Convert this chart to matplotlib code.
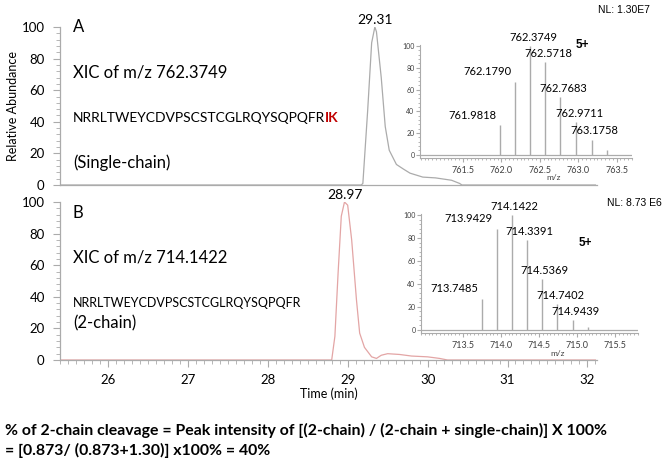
import numpy as np
import matplotlib.pyplot as plt
from matplotlib.ticker import MultipleLocator

plt.rcParams['font.family'] = ['Lato', 'DejaVu Sans']

# XIC traces: retention time (min) and relative abundance (%)
time_a = [25.4, 29.17, 29.19, 29.25, 29.30, 29.34, 29.36, 29.42, 29.47, 29.52,
          29.61, 29.70, 29.78, 29.94, 30.10, 30.30, 30.40, 30.43, 32.1]
abund_a = [0, 0, 1, 47, 90, 100, 97, 68, 37, 22,
           13, 10, 7.5, 5, 4.5, 3, 1, 0, 0]
time_b = [25.4, 28.80, 28.84, 28.88, 28.92, 28.96, 29.00, 29.05, 29.11, 29.15,
          29.21, 29.30, 29.36, 29.42, 29.50, 29.65, 29.80, 30.00, 30.15, 30.25, 32.1]
abund_b = [0, 0, 15, 55, 91, 100, 98, 76, 38, 17,
           8, 2, 1, 3, 4, 3.5, 2.5, 2, 1, 0, 0]

# isotope clusters (5+)
mz_a = [761.9818, 762.1790, 762.3749, 762.5718, 762.7683, 762.9711, 763.1758, 763.37]
int_a = [27, 67, 100, 85, 53, 30, 14, 4]
mz_b = [713.7485, 713.9429, 714.1422, 714.3391, 714.5369, 714.7402, 714.9439, 715.14]
int_b = [27, 88, 100, 78, 44, 22, 8, 2]
n_labels = 7

gray = '#ababab'
pink = '#e3a5a5'

fig = plt.figure(figsize=(6.72, 4.65), dpi=100)
axA = fig.add_axes([60/672, 1-185/465, 537/672, 158/465])
axB = fig.add_axes([60/672, 1-360/465, 537/672, 158/465])

for ax, t, v, c in [(axA, time_a, abund_a, gray), (axB, time_b, abund_b, pink)]:
    ax.plot(t, v, color=c, lw=0.9)
    ax.set_xlim(25.4, 32.12)
    ax.set_ylim(0, 100)
    ax.spines['top'].set_visible(False)
    ax.spines['right'].set_visible(False)
    for s in ['left', 'bottom']:
        ax.spines[s].set_color(gray)
        ax.spines[s].set_linewidth(0.9)
    ax.set_yticks([0, 20, 40, 60, 80, 100])
    ax.yaxis.set_minor_locator(MultipleLocator(4))
    ax.tick_params(axis='y', which='major', length=5, color=gray, labelsize=9.5, pad=6)
    ax.tick_params(axis='y', which='minor', length=3, color=gray)
    ax.patch.set_alpha(0)

axA.tick_params(axis='x', which='both', bottom=False, labelbottom=False)
axB.set_xticks([26, 27, 28, 29, 30, 31, 32])
axB.xaxis.set_minor_locator(MultipleLocator(0.1))
axB.tick_params(axis='x', which='major', length=5, color=gray, labelsize=9.5, pad=5)
axB.tick_params(axis='x', which='minor', length=3, color=gray)
axB.set_xlabel('Time (min)', fontsize=9, labelpad=1)
axA.set_ylabel('Relative Abundance', fontsize=9, labelpad=2)

# peak apex labels
ia = int(np.argmax(abund_a))
axA.annotate('29.31', (time_a[ia], abund_a[ia]), xytext=(0, 7), textcoords='offset pixels',
             ha='center', va='center', fontsize=10, annotation_clip=False)
ib = int(np.argmax(abund_b))
axB.annotate('28.97', (time_b[ib], abund_b[ib]), xytext=(1, 7), textcoords='offset pixels',
             ha='center', va='center', fontsize=10, annotation_clip=False)

# panel text
axA.text(0.024, 1.0, 'A', transform=axA.transAxes, fontsize=12, va='center')
axA.text(0.024, 0.71, 'XIC of m/z 762.3749', transform=axA.transAxes, fontsize=12, va='center')
seq = axA.text(0.024, 0.424, 'NRRLTWEYCDVPSCSTCGLRQYSQPQFR', transform=axA.transAxes,
               fontsize=10, va='center')
axA.annotate('IK', xy=(1, 0), xycoords=seq, va='bottom', ha='left', fontsize=10,
             fontweight='bold', color='#c00000')
axA.text(0.024, 0.139, '(Single-chain)', transform=axA.transAxes, fontsize=12, va='center')

axB.text(0.024, 0.93, 'B', transform=axB.transAxes, fontsize=12, va='center')
axB.text(0.024, 0.646, 'XIC of m/z 714.1422', transform=axB.transAxes, fontsize=12, va='center')
axB.text(0.024, 0.36, 'NRRLTWEYCDVPSCSTCGLRQYSQPQFR', transform=axB.transAxes,
         fontsize=9, va='center')
axB.text(0.024, 0.234, '(2-chain)', transform=axB.transAxes, fontsize=12, va='center')

fig.text(598/672, 1-10/465, 'NL: 1.30E7', fontsize=7.5, va='center', family='Liberation Sans')
fig.text(607/672, 1-203/465, 'NL: 8.73 E6', fontsize=7.5, va='center', family='Liberation Sans')

# insets with isotope distributions
insA = fig.add_axes([420/672, 1-158/465, 212/672, 113/465])
insB = fig.add_axes([421/672, 1-333/465, 217/672, 119/465])
for ins, mz, inten, xlim, xt in [(insA, mz_a, int_a, (760.94, 763.7), [761.5, 762.0, 762.5, 763.0, 763.5]),
                                 (insB, mz_b, int_b, (712.95, 715.8), [713.5, 714.0, 714.5, 715.0, 715.5])]:
    ins.vlines(mz, 0, inten, color=gray, lw=1.0)
    ins.axhline(0, color=gray, lw=0.9)
    ins.set_xlim(*xlim)
    ins.set_ylim(-3, 101)
    ins.set_xticks(xt)
    ins.set_xticklabels(['%.1f' % x for x in xt])
    ins.set_yticks([0, 20, 40, 60, 80, 100])
    ins.xaxis.set_minor_locator(MultipleLocator(0.05))
    ins.yaxis.set_minor_locator(MultipleLocator(4))
    ins.spines['top'].set_visible(False)
    ins.spines['right'].set_visible(False)
    for s in ['left', 'bottom']:
        ins.spines[s].set_color(gray)
        ins.spines[s].set_linewidth(0.8)
    ins.tick_params(axis='x', which='major', length=3, color=gray, labelsize=6.5,
                    labelcolor='#404040', pad=3)
    ins.tick_params(axis='y', which='major', length=3, color=gray, labelsize=5,
                    labelcolor='#404040', pad=1)
    ins.tick_params(which='minor', length=1.5, color=gray)
    ins.patch.set_alpha(0)
    ins.text(0.63, -0.17, 'm/z', transform=ins.transAxes, fontsize=6, ha='center',
             va='center', color='#404040')
    top = int(np.argmax(inten))
    for i in range(n_labels):
        if i < top:
            ins.annotate('%.4f' % mz[i], (mz[i], inten[i]), xytext=(-4, 10),
                         textcoords='offset pixels', ha='right', va='center', fontsize=8)
        else:
            ins.annotate('%.4f' % mz[i], (mz[i], inten[i]), xytext=(3, 9),
                         textcoords='offset pixels', ha='center', va='center', fontsize=8,
                         annotation_clip=False)

fig.text(582/672, 1-45/465, '5+', fontsize=8.5, fontweight='bold', ha='center', va='center',
         family='Liberation Sans')
fig.text(585/672, 1-243/465, '5+', fontsize=8.5, fontweight='bold', ha='center', va='center',
         family='Liberation Sans')

fig.text(5/672, 1-430/465, '% of 2-chain cleavage = Peak intensity of [(2-chain) / (2-chain + single-chain)] X 100%',
         fontsize=11.4, fontweight='bold', va='center')
fig.text(5/672, 1-450/465, '= [0.873/ (0.873+1.30)] x100% = 40%',
         fontsize=11.4, fontweight='bold', va='center')

fig.savefig('out.png', dpi=100)
